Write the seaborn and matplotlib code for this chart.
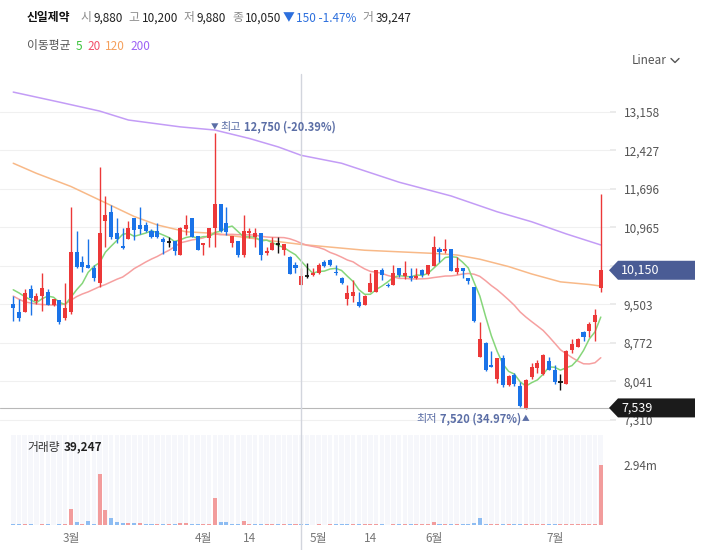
import numpy as np
import pandas as pd
import matplotlib
matplotlib.use("Agg")
import matplotlib.pyplot as plt
import seaborn as sns
from matplotlib.patches import Polygon
from matplotlib.lines import Line2D

# ---- data (one value per trading day) ----
opens = [9510, 9350, 9360, 9790, 9570, 9660, 9740, 9490, 9590, 9240,
         9360, 10500, 10310, 10250, 10200, 9900, 11090, 11260, 10860, 10610,
         10740, 11150, 11010, 11010, 10900, 10900, 10740, 10690, 10700, 10440,
         10930, 11140, 10800, 10630, 10760, 10950, 11410, 11040, 10660, 10710,
         10440, 10850, 10790, 10850, 10480, 10530, 10640, 10530, 10410, 10250,
         9880, 10040, 10060, 10100, 10310, 10350, 10110, 10000, 9600, 9660,
         9550, 9490, 9740, 9740, 10160, 9880, 9870, 10190, 10040, 10040,
         10000, 10160, 10080, 10230, 10550, 10520, 10550, 10120, 10190, 10000,
         9840, 8500, 8770, 8350, 8080, 8480, 7970, 8160, 7950, 7530,
         8130, 8290, 8180, 8420, 8250, 8040, 7990, 8640, 8700, 8970,
         8990, 9160, 9810]
highs = [9660, 9600, 9790, 9880, 9710, 10090, 9790, 9600, 9590, 9900,
         11350, 10900, 10430, 10740, 10250, 12100, 11550, 11390, 11140, 10950,
         11090, 11150, 11350, 11070, 10930, 11040, 10790, 10790, 10700, 10980,
         11190, 11140, 10800, 10670, 10950, 12750, 11410, 11350, 10800, 10710,
         11190, 10950, 10950, 10850, 10600, 10790, 10790, 10640, 10430, 10310,
         10200, 10280, 10190, 10280, 10350, 10360, 10250, 10020, 9870, 9970,
         9740, 9680, 10090, 10160, 10190, 9910, 10250, 10190, 10330, 10190,
         10190, 10170, 10250, 10800, 10600, 10740, 10550, 10400, 10190, 10000,
         9840, 9170, 8780, 8610, 8480, 8540, 8160, 8200, 8040, 8080,
         8400, 8440, 8560, 8510, 8350, 8180, 8640, 8840, 8860, 8990,
         9160, 9410, 11600]
lows = [9190, 9190, 9360, 9310, 9510, 9370, 9490, 9470, 9140, 9210,
        9320, 10190, 10120, 10190, 9940, 9840, 10600, 10740, 10660, 10550,
        10740, 10720, 10830, 10880, 10760, 10760, 10450, 10600, 10440, 10440,
        10820, 10780, 10530, 10440, 10600, 10600, 10880, 10820, 10600, 10400,
        10410, 10760, 10600, 10350, 10440, 10530, 10470, 10440, 10080, 10090,
        9880, 10000, 10040, 10080, 10210, 10230, 10060, 9890, 9490, 9550,
        9450, 9490, 9740, 9740, 9970, 9830, 9870, 10030, 9980, 9950,
        9980, 10030, 10060, 10230, 10310, 10470, 10140, 10080, 10000, 9890,
        9170, 8500, 8230, 8310, 8010, 7940, 7950, 7950, 7550, 7520,
        8080, 8210, 8160, 8250, 7990, 7880, 7990, 8590, 8700, 8810,
        8890, 8810, 9730]
closes = [9430, 9240, 9710, 9630, 9660, 9810, 9490, 9600, 9160, 9430,
          10500, 10210, 10210, 10200, 10000, 10860, 11200, 10780, 10740, 10580,
          10960, 10910, 10930, 10900, 10790, 10790, 10690, 10690, 10520, 10950,
          11010, 10790, 10530, 10660, 10950, 11410, 10900, 10880, 10800, 10440,
          10900, 10900, 10850, 10440, 10520, 10660, 10640, 10640, 10080, 10200,
          10050, 10040, 10100, 10250, 10230, 10250, 10100, 9900, 9710, 9730,
          9470, 9660, 9900, 10160, 10060, 9860, 10100, 10060, 10100, 10000,
          10040, 10060, 10250, 10600, 10500, 10550, 10140, 10190, 10140, 9950,
          9190, 8840, 8250, 8310, 8480, 7980, 8140, 7990, 7580, 8070,
          8310, 8400, 8540, 8260, 8040, 8040, 8620, 8750, 8840, 8890,
          9130, 9300, 10150]
volumes = [30000, 25000, 35000, 30000, 20000, 40000, 30000, 20000, 35000, 40000,
           770000, 150000, 40000, 195000, 35000, 2480000, 720000, 330000, 130000, 80000,
           75000, 75000, 80000, 40000, 30000, 25000, 30000, 25000, 30000, 80000,
           80000, 30000, 30000, 35000, 60000, 1300000, 150000, 150000, 35000, 40000,
           195000, 35000, 30000, 65000, 30000, 30000, 25000, 30000, 35000, 30000,
           39247, 25000, 20000, 25000, 20000, 25000, 30000, 30000, 45000, 35000,
           30000, 25000, 30000, 35000, 25000, 20000, 30000, 25000, 30000, 25000,
           30000, 25000, 40000, 130000, 30000, 35000, 30000, 25000, 30000, 30000,
           80000, 330000, 60000, 30000, 35000, 30000, 35000, 30000, 65000, 35000,
           30000, 30000, 35000, 30000, 30000, 25000, 30000, 25000, 30000, 25000,
           30000, 30000, 2940000]

# moving averages: start of MA5 / MA20 and the long ones
ma5_head = [9780, 9720, 9650, 9590]
ma20_head = [9660, 9600, 9550, 9530, 9510, 9500, 9495, 9490, 9495, 9510,
             9580, 9650, 9700, 9740, 9790, 9840, 9880, 9930, 9980]
ma120_idx = [0, 4, 10, 16, 21, 25, 30, 35, 39, 44, 50, 56, 61, 73, 77, 81, 86, 90, 95, 100, 102]
ma120_val = [12180, 11990, 11740, 11430, 11170, 11010, 10880, 10850, 10790, 10720, 10640,
             10580, 10530, 10470, 10440, 10360, 10220, 10080, 9930, 9880, 9850]
ma200_idx = [0, 8, 15, 20, 29, 35, 41, 46, 50, 57, 67, 76, 84, 90, 96, 102]
ma200_val = [13530, 13340, 13170, 13000, 12870, 12810, 12650, 12490, 12330, 12180,
             11820, 11560, 11260, 11070, 10840, 10630]

price_ticks = [13158, 12427, 11696, 10965, 10234, 9503, 8772, 8041, 7310]
month_labels = ["3월", "4월", "14", "5월", "14", "6월", "7월"]
month_idx = [10, 33, 41, 53, 62, 73, 94]
hover_idx = 50          # candle under the crosshair
cross_price = 7539      # crosshair price line
stock_name = "신일제약"

df = pd.DataFrame({"o": opens, "h": highs, "l": lows, "c": closes, "v": volumes})
df["x"] = np.arange(len(df))

ma5 = df["c"].rolling(5).mean()
ma5.iloc[:len(ma5_head)] = ma5_head
ma20 = df["c"].rolling(20).mean()
ma20.iloc[:len(ma20_head)] = ma20_head

RED = "#ec3838"
BLUE = "#1a73e8"

sns.set_theme(style="white")
plt.rcParams["font.family"] = ["Noto Sans CJK KR", "DejaVu Sans"]

W, H = 709, 550
fig = plt.figure(figsize=(W / 100, H / 100), dpi=100)
fig.patch.set_facecolor("white")
renderer = fig.canvas.get_renderer()


def fx(px):
    return px / W


def fy(py):
    return 1 - py / H


def chain(x0, y, parts, size, right=False):
    # pieces of text one after the other: (text, colour, weight, gap after)
    x = x0
    seq = parts[::-1] if right else parts
    for t, col, wt, gap in seq:
        txt = fig.text(fx(x), y, t, fontsize=size, color=col, weight=wt, va="center",
                       ha="right" if right else "left", zorder=12)
        w = txt.get_window_extent(renderer).width
        x = x - w - gap if right else x + w + gap


ax = fig.add_axes([0, fy(430), fx(610), (430 - 72) / H])
axv = fig.add_axes([0, fy(525), fx(610), 90 / H])
xlim = (-2.3, 103.6)

# moving average lines
sns.lineplot(x=ma200_idx, y=ma200_val, ax=ax, color="#c39cf6", lw=1.1, zorder=2)
sns.lineplot(x=ma120_idx, y=ma120_val, ax=ax, color="#f8b988", lw=1.1, zorder=2)
sns.lineplot(x=df["x"], y=ma20, ax=ax, color="#f6a0a0", lw=1.1, zorder=2)
sns.lineplot(x=df["x"], y=ma5, ax=ax, color="#86d67a", lw=1.1, zorder=2)

# candles
for i, r in df.iterrows():
    if r.c > r.o:
        col = RED
    elif r.c < r.o:
        col = BLUE
    else:
        col = "#111111"
    ax.vlines(r.x, r.l, r.h, color=col, lw=1, zorder=3)
    if r.c == r.o:
        ax.hlines(r.c, r.x - 0.38, r.x + 0.38, color=col, lw=1.3, zorder=3)
    else:
        ax.bar(r.x, abs(r.c - r.o), bottom=min(r.o, r.c), width=0.7, color=col,
               linewidth=0, zorder=3)

ax.axhline(cross_price, color="#b8b8b8", lw=0.8, zorder=5)

ax.set_xlim(*xlim)
ax.set_ylim(7120, 13911)
ax.yaxis.tick_right()
ax.set_yticks(price_ticks)
ax.set_yticklabels([f"{t:,}" for t in price_ticks])
ax.tick_params(axis="y", length=4, color="#e8e8e8", pad=6, labelsize=8.5, labelcolor="#555555")
ax.set_xticks([])
ax.set_xlabel("")
ax.set_ylabel("")
ax.grid(axis="y", color="#f0f0f0", lw=0.8)
ax.set_axisbelow(True)
for s in ax.spines.values():
    s.set_visible(False)

# volume panel
vtop = max(volumes) * 1.5
axv.bar(df["x"], [vtop] * len(df), width=0.8, color="#f6f7fb", linewidth=0, zorder=0)
vcols = []
for i in range(len(df)):
    ref = opens[0] if i == 0 else closes[i - 1]
    vcols.append("#f29c9c" if closes[i] >= ref else "#8dbcf2")
axv.bar(df["x"], df["v"], width=0.7, color=vcols, linewidth=0, zorder=2)
axv.set_xlim(*xlim)
axv.set_ylim(0, vtop)
axv.yaxis.tick_right()
axv.set_yticks([max(volumes)])
axv.set_yticklabels([f"{max(volumes) / 1e6:.2f}m"])
axv.tick_params(axis="y", length=0, pad=10, labelsize=8.5, labelcolor="#555555")
axv.set_xticks(month_idx)
axv.set_xticklabels(month_labels)
axv.tick_params(axis="x", length=0, pad=5, labelsize=8.5, labelcolor="#777777")
axv.set_xlabel("")
axv.set_ylabel("")
for s in axv.spines.values():
    s.set_visible(False)

chain(27, fy(447), [("거래량", "#333333", "normal", 4),
                    (f"{volumes[hover_idx]:,}", "#222222", "bold", 0)], 8.5)


def to_fig(xd, yd):
    p = ax.transData.transform((xd, yd))
    return fig.transFigure.inverted().transform(p)


# high / low notes
hi_i = int(np.argmax(highs))
lo_i = int(np.argmin(lows))
last = closes[-1]
hi_pct = (last - highs[hi_i]) / highs[hi_i] * 100
lo_pct = (last - lows[lo_i]) / lows[lo_i] * 100
note_col = "#5b6ea6"

hx, hyf = to_fig(hi_i, highs[hi_i])
fig.text(hx, hyf + 6 / H, "▼", fontsize=5.5, color=note_col, ha="center", va="center")
chain(hx * W + 6, hyf + 6 / H, [("최고", note_col, "normal", 3),
                                 (f"{highs[hi_i]:,} ({hi_pct:.2f}%)", note_col, "bold", 0)], 8)

lx, lyf = to_fig(lo_i, lows[lo_i])
fig.text(lx, lyf - 10 / H, "▲", fontsize=5.5, color=note_col, ha="center", va="center")
chain(lx * W - 5, lyf - 10 / H, [("최저", note_col, "normal", 3),
                                  (f"{lows[lo_i]:,} ({lo_pct:.2f}%)", note_col, "bold", 3)], 8,
      right=True)

# crosshair vertical line
xf = to_fig(hover_idx, 0)[0]
fig.add_artist(Line2D([xf, xf], [0, fy(74)], transform=fig.transFigure,
                      color="#d2d5dd", lw=1, zorder=5))


# price tags on the right
def tag(price, text, fc):
    yf = to_fig(0, price)[1]
    hh = 9.5 / H
    pts = [(fx(609), yf), (fx(618), yf + hh), (fx(695), yf + hh),
           (fx(695), yf - hh), (fx(618), yf - hh)]
    fig.add_artist(Polygon(pts, closed=True, transform=fig.transFigure, fc=fc,
                           ec="none", zorder=10))
    fig.text(fx(621), yf, text, color="white", fontsize=9, va="center", ha="left",
             zorder=11)


tag(last, f"{last:,}", "#4a5c95")
tag(cross_price, f"{cross_price:,}", "#1b1b1b")

# header for the hovered candle
o, h, l, c = opens[hover_idx], highs[hover_idx], lows[hover_idx], closes[hover_idx]
prev = closes[hover_idx - 1]
chg = c - prev
pct = chg / prev * 100
arrow = "▼" if chg < 0 else "▲"
grey, dark, up_dn = "#8a8a8a", "#222222", "#2c6fdd"
hy = fy(18)
chain(27, hy, [(stock_name, "#111111", "bold", 10),
               ("시", grey, "normal", 2), (f"{o:,}", dark, "normal", 6),
               ("고", grey, "normal", 2), (f"{h:,}", dark, "normal", 6),
               ("저", grey, "normal", 2), (f"{l:,}", dark, "normal", 6),
               ("종", grey, "normal", 2), (f"{c:,}", dark, "normal", 1),
               (arrow, up_dn, "normal", 2), (f"{abs(chg):,} {pct:.2f}%", up_dn, "normal", 6),
               ("거", grey, "normal", 2), (f"{volumes[hover_idx]:,}", dark, "normal", 0)], 8.5)

my = fy(46)
chain(27, my, [("이동평균", "#555555", "normal", 5), ("5", "#3cc43c", "normal", 5),
               ("20", "#f2506a", "normal", 5), ("120", "#f5a05c", "normal", 5),
               ("200", "#9d62f5", "normal", 0)], 8.5)

fig.text(fx(632), fy(60), "Linear", fontsize=8.5, color="#555555", va="center")
fig.add_artist(Line2D([fx(671), fx(675), fx(679)], [fy(58.5), fy(62.5), fy(58.5)],
                      transform=fig.transFigure, color="#555555", lw=1))

fig.savefig("out.png", dpi=100)
